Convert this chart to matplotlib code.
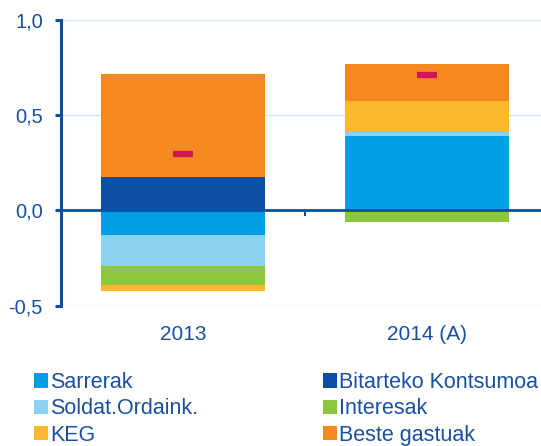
import matplotlib
matplotlib.use("Agg")
import matplotlib.pyplot as plt
import numpy as np

# Data
categories = ["2013", "2014 (A)"]
series_names = ["Sarrerak", "Bitarteko Kontsumoa", "Soldat.Ordaink.",
                "Interesak", "KEG", "Beste gastuak"]
sarrerak = [-0.130, 0.389]
bitarteko = [0.174, 0.0]
soldat = [-0.161, 0.019]
interesak = [-0.100, -0.060]
keg = [-0.031, 0.166]
beste = [0.542, 0.193]
guztira = [0.296, 0.709]
yticks = [-0.5, 0.0, 0.5, 1.0]
ytick_labels = ["-0,5", "0,0", "0,5", "1,0"]

colors = ["#009fe3", "#0a4fa3", "#8ad1f2", "#8dc63f", "#fdb92e", "#f4891f"]
text_color = "#1a50a3"
axis_color = "#0a4fa3"

plt.rcParams['font.family'] = ['Liberation Sans', 'DejaVu Sans']

fig = plt.figure(figsize=(5.41, 4.46), dpi=100)
ax = fig.add_axes([61 / 541, (446 - 305.5) / 446, 488 / 541, 286 / 446])

x = np.arange(len(categories))
all_series = [sarrerak, bitarteko, soldat, interesak, keg, beste]
pos_base = np.zeros(len(categories))
neg_base = np.zeros(len(categories))
handles = []
for name, vals, c in zip(series_names, all_series, colors):
    vals = np.array(vals, dtype=float)
    bottoms = np.where(vals >= 0, pos_base, neg_base)
    b = ax.bar(x, vals, width=0.67, bottom=bottoms, color=c, label=name,
               zorder=2, linewidth=0)
    handles.append(b)
    pos_base = pos_base + np.where(vals >= 0, vals, 0)
    neg_base = neg_base + np.where(vals < 0, vals, 0)

ax.plot(x, guztira, linestyle="none", marker="_", markersize=15,
        markeredgewidth=4.5, color="#d2145a", zorder=4)

ax.set_xlim(-0.5, 1.5)
ax.set_ylim(-0.5, 1.0)
ax.set_yticks(yticks)
ax.set_yticklabels(ytick_labels)
ax.yaxis.grid(True, color="#c9e8f8", linewidth=1.0, zorder=0)
ax.set_axisbelow(True)

for s in ["top", "right"]:
    ax.spines[s].set_visible(False)
ax.spines["left"].set_color(axis_color)
ax.spines["left"].set_linewidth(2.2)
ax.spines["bottom"].set_position(("data", 0))
ax.spines["bottom"].set_color(axis_color)
ax.spines["bottom"].set_linewidth(2.0)
ax.spines["bottom"].set_zorder(3)

ax.tick_params(axis="y", colors=axis_color, labelcolor=text_color,
               labelsize=14.5, length=4, width=2.2, pad=9)
ax.set_xticks([])
ax.set_xticks([0.5], minor=True)
ax.tick_params(axis="x", which="minor", direction="out", length=4.5,
               width=1.5, colors=axis_color, labelbottom=False)

sec = ax.secondary_xaxis("bottom")
sec.spines["bottom"].set_visible(False)
sec.set_xticks(x)
sec.set_xticklabels(categories)
sec.tick_params(axis="x", length=0, pad=14, labelsize=15, labelcolor=text_color)

order1 = [0, 2, 4]
order2 = [1, 3, 5]
common = dict(frameon=False, fontsize=15.5, handlelength=0.65,
              handleheight=0.65, handletextpad=0.1, labelspacing=0.25,
              borderpad=0, borderaxespad=0, labelcolor=text_color,
              loc="upper left")
leg1 = fig.legend([handles[i] for i in order1], [series_names[i] for i in order1],
                  bbox_to_anchor=(34 / 541, 1 - 372 / 446), **common)
leg2 = fig.legend([handles[i] for i in order2], [series_names[i] for i in order2],
                  bbox_to_anchor=(323 / 541, 1 - 372 / 446), **common)

fig.savefig("out.png", dpi=100)
